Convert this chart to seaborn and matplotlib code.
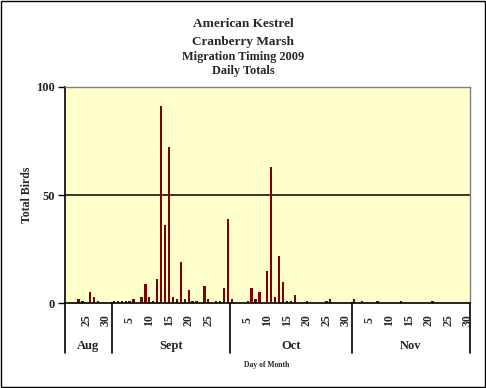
import numpy as np
import pandas as pd
import matplotlib.pyplot as plt
import seaborn as sns
from matplotlib.patches import Rectangle
from matplotlib.lines import Line2D

# --- daily counts (days without birds are 0) ---
aug_days = [23, 24, 26, 27, 28]
aug_birds = [2, 1, 5, 3, 1]

sept_days = [1, 2, 3, 4, 5, 6, 8, 9, 10, 11, 12, 13, 14, 15, 16, 17, 18, 19,
             20, 21, 22, 24, 25, 27, 28, 29, 30]
sept_birds = [1, 1, 1, 1, 1, 2, 3, 9, 3, 1, 11, 91, 36, 72, 3, 2, 19, 2,
              6, 1, 1, 8, 2, 1, 1, 7, 39]

oct_days = [1, 5, 6, 7, 8, 10, 11, 12, 13, 14, 15, 16, 17, 20, 25, 26]
oct_birds = [2, 1, 7, 2, 5, 15, 63, 3, 22, 10, 1, 1, 4, 1, 1, 2]

nov_days = [1, 3, 7, 13, 21]
nov_birds = [2, 1, 1, 1, 1]

months = ['Aug', 'Sept', 'Oct', 'Nov']
month_first = [20, 1, 1, 1]
month_last = [31, 30, 31, 30]
month_ticks = [[25, 30], [5, 10, 15, 20, 25], [5, 10, 15, 20, 25, 30],
               [5, 10, 15, 20, 25, 30]]

# Build full daily table
obs = {'Aug': dict(zip(aug_days, aug_birds)),
       'Sept': dict(zip(sept_days, sept_birds)),
       'Oct': dict(zip(oct_days, oct_birds)),
       'Nov': dict(zip(nov_days, nov_birds))}
rows = []
for m, d0, d1 in zip(months, month_first, month_last):
    for d in range(d0, d1 + 1):
        rows.append({'month': m, 'day': d, 'birds': obs[m].get(d, 0)})
df = pd.DataFrame(rows)
df['pos'] = np.arange(len(df))

sns.set_style('white')
plt.rcParams['font.family'] = ['Liberation Serif', 'DejaVu Serif']
plt.rcParams['font.weight'] = 'bold'

fig = plt.figure(figsize=(4.86, 3.88), dpi=100)
ax = fig.add_axes([64.7 / 486, 1 - 303.3 / 388, (470 - 64.7) / 486, (303.3 - 86.7) / 388])
ax.set_facecolor('#FFFFCC')

sns.barplot(data=df, x='pos', y='birds', color='#800000', saturation=1,
            width=0.58, ax=ax, order=list(df['pos']),
            edgecolor='none', linewidth=0)
ax.axhline(50, color='black', lw=1.1, zorder=0)

ax.set_xlim(-0.5, len(df) - 0.5)
ax.set_ylim(0, 100)
ax.set_yticks([0, 50, 100])
ax.set_yticklabels(['0', '50', '100'], fontsize=9, fontweight='bold')
ax.tick_params(axis='y', direction='out', length=5, width=1, color='black', left=True, pad=2)
ax.set_xticks([])
ax.set_xlabel('')
ax.set_ylabel('Total Birds', fontsize=8.5, fontweight='bold', labelpad=2)

for s in ['left', 'bottom']:
    ax.spines[s].set_color('black')
    ax.spines[s].set_linewidth(1.2)
for s in ['top', 'right']:
    ax.spines[s].set_color('#808080')
    ax.spines[s].set_linewidth(1)

# day labels, month labels and separators below the axis
trans = ax.get_xaxis_transform()
start = 0
for m, d0, d1, ticks in zip(months, month_first, month_last, month_ticks):
    n = d1 - d0 + 1
    for t in ticks:
        p = start + (t - d0)
        ax.text(p, -0.078, str(t), rotation=90, ha='center', va='center',
                fontsize=8.5, fontweight='bold', transform=trans)
    ax.text(start + n / 2 - 0.5, -0.195, m, ha='center', va='center',
            fontsize=9, fontweight='bold', transform=trans)
    start += n
for b in [0, 12, 42, 73, len(df)]:
    ax.add_line(Line2D([b - 0.5, b - 0.5], [0, -0.23], transform=trans,
                       color='black', lw=1.2, clip_on=False))

fig.text(267 / 486, 1 - 365 / 388, 'Day of Month', ha='center', va='center',
         fontsize=5.5, fontweight='bold')

# titles
fig.text(243 / 486, 1 - 24 / 388, 'American Kestrel', ha='center', va='center',
         fontsize=9.5, fontweight='bold')
fig.text(243 / 486, 1 - 42 / 388, 'Cranberry Marsh', ha='center', va='center',
         fontsize=9.5, fontweight='bold')
fig.text(243 / 486, 1 - 57 / 388, 'Migration Timing 2009', ha='center', va='center',
         fontsize=8.8, fontweight='bold')
fig.text(243 / 486, 1 - 71 / 388, 'Daily Totals', ha='center', va='center',
         fontsize=8.8, fontweight='bold')

# outer chart border
fig.patches.append(Rectangle((0.5 / 486, 1.5 / 388), 484 / 486, 386 / 388,
                             transform=fig.transFigure, fill=False,
                             edgecolor='black', lw=1))

fig.savefig('out.png', dpi=100)
